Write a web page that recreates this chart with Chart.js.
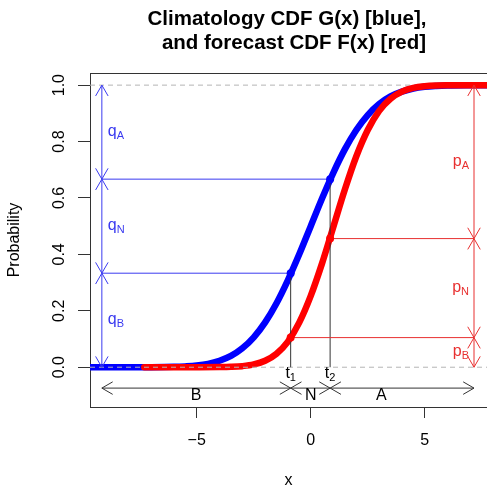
<!DOCTYPE html>
<html><head><meta charset="utf-8">
<style>html,body{margin:0;padding:0;background:#fff;overflow:hidden}#wrap{width:487px;height:489px}</style>
<script src="https://cdn.jsdelivr.net/npm/chart.js@4.4.1/dist/chart.umd.min.js"></script>
</head><body><div id="wrap"><canvas id="c" width="487" height="489"></canvas></div>
<script>
// ---- data ----
const titleLines = ['Climatology CDF G(x) [blue],', 'and forecast CDF F(x) [red]'];
const xAxisTitle = 'x';
const yAxisTitle = 'Probability';
const xTickValues = [-5, 0, 5];
const yTickValues = [0, 0.2, 0.4, 0.6, 0.8, 1.0];

const climX = [-9.7, -8, -7, -6, -5.5, -5, -4.5, -4, -3.5, -3, -2.5, -2, -1.5, -1, -0.5, 0, 0.5, 1, 1.5, 2, 2.5, 3, 3.5, 4, 4.5, 5, 5.5, 6, 7, 7.8];
const climY = [0, 0.00003, 0.0002, 0.0013, 0.003, 0.006, 0.012, 0.023, 0.040, 0.067, 0.106, 0.159, 0.227, 0.309, 0.401, 0.500, 0.599, 0.691, 0.773, 0.841, 0.894, 0.933, 0.960, 0.977, 0.988, 0.994, 0.997, 0.9987, 0.9998, 1.0];

const fcstX = [-7.3, -6, -5, -4, -3.5, -3, -2.5, -2, -1.5, -1, -0.5, 0, 0.5, 1, 1.5, 2, 2.5, 3, 3.5, 4, 4.5, 5, 5.5, 6, 7, 7.8];
const fcstY = [0, 0, 0.00003, 0.0004, 0.0013, 0.0038, 0.0098, 0.023, 0.048, 0.091, 0.159, 0.253, 0.369, 0.500, 0.631, 0.748, 0.841, 0.909, 0.952, 0.977, 0.990, 0.996, 0.9987, 0.9996, 1.0, 1.0];

const thresholds = [-0.88, 0.85];          // t1, t2
const thresholdLabels = ['1', '2'];
const climAtT = [0.3333, 0.6667];          // G(t1), G(t2)
const fcstAtT = [0.105, 0.456];            // F(t1), F(t2)
const qLabels = ['B', 'N', 'A'];           // subscripts of q (bottom to top)
const pLabels = ['B', 'N', 'A'];           // subscripts of p (bottom to top)
const catLabels = ['B', 'N', 'A'];
const catLabelX = [-5.03, 0, 3.1];
const qArrowX = -9.16;
const pArrowX = 7.16;
const catArrowY = -0.074;
const catLabelY = -0.099;
const xRange = [-9.68, 7.73];
const yRange = [-0.141, 1.043];

// ---- styling ----
const FONT = '"Liberation Sans", Arial, Helvetica, sans-serif';
const BLUE = '#0000ff', RED = '#ff0000';
const THIN_BLUE = '#3a3af0', THIN_RED = '#e83030', INK = '#333333', GRAY = '#b4b4b4';

const pts = (xs, ys) => xs.map((x, i) => ({x, y: ys[i]}));
const seg = (x0, y0, x1, y1) => [{x: x0, y: y0}, {x: x1, y: y1}];
const lineDs = (data, color, width, order, dash) => ({
  data, showLine: true, borderColor: color, borderWidth: width, pointRadius: 0,
  borderDash: dash || [], order, clip: 0, tension: 0
});

const datasets = [];
// blue and red CDFs
datasets.push(Object.assign(lineDs(pts(climX, climY), BLUE, 6.5, 4), {cubicInterpolationMode: 'monotone', borderCapStyle: 'round', borderJoinStyle: 'round'}));
datasets.push(Object.assign(lineDs(pts(fcstX, fcstY), RED, 6.5, 3), {cubicInterpolationMode: 'monotone', borderCapStyle: 'round', borderJoinStyle: 'round'}));
// dashed references
datasets.push(lineDs(seg(xRange[0], 1, xRange[1], 1), GRAY, 1, 5, [5, 4]));
datasets.push(lineDs(seg(xRange[0], 0, xRange[1], 0), GRAY, 1, 2, [5, 4]));
// thin guide lines
thresholds.forEach((t, i) => {
  datasets.push(lineDs(seg(qArrowX, climAtT[i], t, climAtT[i]), THIN_BLUE, 1, 1));
  datasets.push(lineDs(seg(t, fcstAtT[i], pArrowX, fcstAtT[i]), THIN_RED, 1, 1));
  datasets.push(lineDs(seg(t, 0, t, climAtT[i]), INK, 1, 1));
});
// dots
datasets.push({data: pts(thresholds, climAtT), showLine: false, pointRadius: 4, pointBackgroundColor: BLUE, pointBorderColor: BLUE, pointBorderWidth: 0, order: 0});
datasets.push({data: pts(thresholds, fcstAtT), showLine: false, pointRadius: 4, pointBackgroundColor: RED, pointBorderColor: RED, pointBorderWidth: 0, order: 0});

function head(ctx, xf, yf, xt, yt) {
  const len = 12.5, ang = Math.PI / 6;
  const a = Math.atan2(yt - yf, xt - xf);
  ctx.beginPath();
  ctx.moveTo(xt - len * Math.cos(a - ang), yt - len * Math.sin(a - ang));
  ctx.lineTo(xt, yt);
  ctx.lineTo(xt - len * Math.cos(a + ang), yt - len * Math.sin(a + ang));
  ctx.stroke();
}
function arrow2(ctx, x0, y0, x1, y1) {
  ctx.beginPath(); ctx.moveTo(x0, y0); ctx.lineTo(x1, y1); ctx.stroke();
  head(ctx, x0, y0, x1, y1); head(ctx, x1, y1, x0, y0);
}
function subText(ctx, main, sub, x, yMid, align) {
  ctx.textBaseline = 'alphabetic';
  ctx.textAlign = 'left';
  ctx.font = '16px ' + FONT;
  const w1 = ctx.measureText(main).width;
  ctx.font = '11px ' + FONT;
  const w2 = ctx.measureText(sub).width;
  let x0 = x;
  if (align === 'right') x0 = x - w1 - w2;
  if (align === 'center') x0 = x - (w1 + w2) / 2;
  ctx.font = '16px ' + FONT;
  ctx.fillText(main, x0, yMid + 4);
  ctx.font = '11px ' + FONT;
  ctx.fillText(sub, x0 + w1, yMid + 7);
}

const annot = {
  id: 'annot',
  afterDatasetsDraw(chart) {
    const ctx = chart.ctx, xs = chart.scales.x, ys = chart.scales.y;
    const X = v => xs.getPixelForValue(v), Y = v => ys.getPixelForValue(v);
    ctx.save();
    ctx.lineWidth = 1;
    // blue q arrows
    const qB = [0, climAtT[0], climAtT[1], 1];
    ctx.strokeStyle = THIN_BLUE; ctx.fillStyle = THIN_BLUE;
    for (let i = 0; i < 3; i++) {
      arrow2(ctx, X(qArrowX), Y(qB[i]), X(qArrowX), Y(qB[i + 1]));
      subText(ctx, 'q', qLabels[i], X(qArrowX) + 6, Y((qB[i] + qB[i + 1]) / 2), 'left');
    }
    // red p arrows
    const pB = [0, fcstAtT[0], fcstAtT[1], 1];
    ctx.strokeStyle = THIN_RED; ctx.fillStyle = THIN_RED;
    for (let i = 0; i < 3; i++) {
      arrow2(ctx, X(pArrowX), Y(pB[i]), X(pArrowX), Y(pB[i + 1]));
      subText(ctx, 'p', pLabels[i], X(pArrowX) - 5, Y((pB[i] + pB[i + 1]) / 2), 'right');
    }
    // black category arrows
    const cB = [qArrowX, thresholds[0], thresholds[1], pArrowX];
    ctx.strokeStyle = INK; ctx.fillStyle = '#000';
    for (let i = 0; i < 3; i++) {
      arrow2(ctx, X(cB[i]), Y(catArrowY), X(cB[i + 1]), Y(catArrowY));
      ctx.font = '16px ' + FONT; ctx.textAlign = 'center'; ctx.textBaseline = 'middle';
      ctx.fillText(catLabels[i], X(catLabelX[i]), Y(catLabelY));
    }
    // t labels
    thresholds.forEach((t, i) => subText(ctx, 't', thresholdLabels[i], X(t), Y(0) + 7, 'center'));
    ctx.restore();
  },
  afterDraw(chart) {
    const ctx = chart.ctx, a = chart.chartArea;
    ctx.save();
    ctx.strokeStyle = INK; ctx.lineWidth = 1;
    ctx.beginPath(); ctx.moveTo(a.left, a.top + 0.5); ctx.lineTo(a.right, a.top + 0.5); ctx.stroke();
    ctx.fillStyle = '#000'; ctx.font = 'bold 20.5px ' + FONT;
    ctx.textAlign = 'center'; ctx.textBaseline = 'alphabetic';
    ctx.fillText(titleLines[0], 287, 25);
    ctx.fillText(titleLines[1], 294, 49);
    ctx.restore();
  }
};

const fmtX = v => (v < 0 ? '\u2212' + Math.abs(v) : String(v));

new Chart(document.getElementById('c'), {
  type: 'scatter',
  data: {datasets},
  options: {
    responsive: false, animation: false, devicePixelRatio: 1,
    layout: {autoPadding: false, padding: {left: 0, right: 0, top: 73, bottom: 0}},
    plugins: {legend: {display: false}, tooltip: {enabled: false}, title: {display: false}},
    scales: {
      x: {
        type: 'linear', position: 'bottom', min: xRange[0], max: xRange[1],
        afterBuildTicks: s => { s.ticks = xTickValues.map(v => ({value: v})); },
        afterFit: s => { s.height = 82; },
        grid: {drawOnChartArea: false, drawTicks: true, tickLength: 11, tickColor: INK, tickWidth: 1},
        border: {display: true, color: INK, width: 1},
        ticks: {font: {family: FONT, size: 16}, color: '#000', padding: 13, maxRotation: 0, autoSkip: false, callback: v => fmtX(v)},
        title: {display: true, text: xAxisTitle, font: {family: FONT, size: 16, lineHeight: 1}, color: '#000', padding: 0}
      },
      y: {
        type: 'linear', position: 'left', min: yRange[0], max: yRange[1],
        afterBuildTicks: s => { s.ticks = yTickValues.map(v => ({value: v})); },
        afterFit: s => { s.width = 90; },
        grid: {drawOnChartArea: false, drawTicks: true, tickLength: 12, tickColor: INK, tickWidth: 1},
        border: {display: true, color: INK, width: 1},
        ticks: {font: {family: FONT, size: 16}, color: '#000', padding: 7, minRotation: 90, maxRotation: 90, crossAlign: 'center', autoSkip: false, callback: v => v.toFixed(1)},
        title: {display: true, text: yAxisTitle, font: {family: FONT, size: 16}, color: '#000', padding: {top: 5, bottom: 0}}
      }
    }
  },
  plugins: [annot]
});
</script></body></html>
